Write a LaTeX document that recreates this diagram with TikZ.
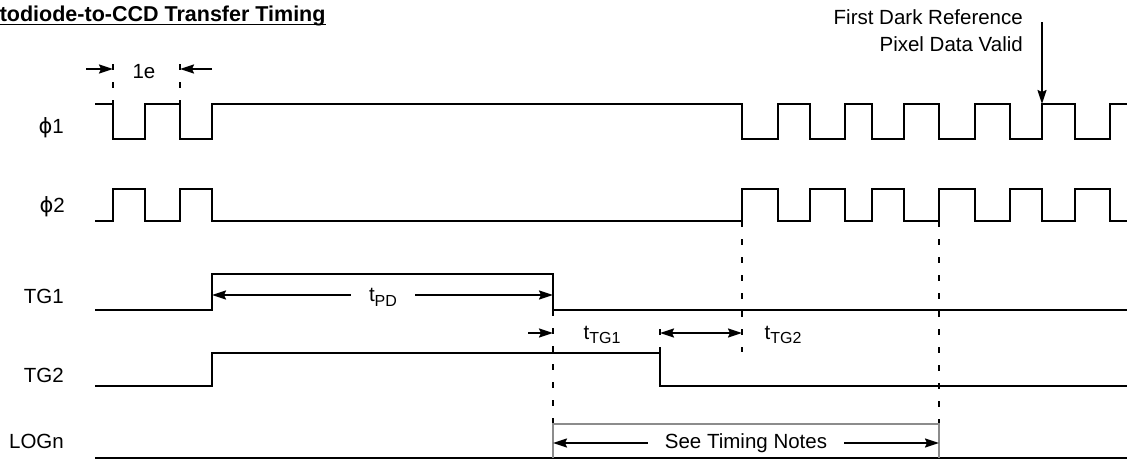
\documentclass[tikz,border=0pt]{standalone}
\usepackage{fontspec}
\setmainfont{Liberation Sans}
\newfontfamily\dejavu{DejaVu Sans}
\usetikzlibrary{arrows.meta}
\newcommand{\subs}[1]{\raisebox{-0.45ex}{\fontsize{16}{16}\selectfont #1}}
\newcommand{\phisym}{{\dejavu\fontsize{21}{24}\selectfont ϕ}}
\begin{document}
\begin{tikzpicture}[x=1pt,y=-1pt,
  sig/.style={line width=2pt, line join=miter},
  dashln/.style={line width=2pt, dash pattern=on 6pt off 12pt},
  tip/.tip={Stealth[length=14pt,width=9pt,inset=2pt]},
  dim/.style={line width=1.7pt, -tip},
  dimb/.style={line width=1.7pt, tip-tip},
  lbl/.style={font=\fontsize{20.5}{24}\selectfont, inner sep=0pt},
  sidelbl/.style={lbl, anchor=base east},
  gry/.style={draw=black!45, line width=1.6pt}]
\useasboundingbox (0,0) rectangle (1127,461);
\clip (0,0) rectangle (1127,461);

% title
\node[inner sep=0pt, anchor=base west, font=\bfseries\fontsize{21.5}{24}\selectfont] (title) at (-41,21) {Photodiode-to-CCD Transfer Timing};
\draw[line width=1.8pt] ([yshift=-3.5pt]title.base west) -- ([yshift=-3.5pt]title.base east);

% signal labels
\node[sidelbl] (lphi1) at (64,133) {\phisym1};
\node[sidelbl] (lphi2) at (65,212) {\phisym2};
\node[sidelbl] (ltg1) at (64,303) {TG1};
\node[sidelbl] (ltg2) at (64,382) {TG2};
\node[sidelbl] (llog) at (64,448) {LOGn};

% phi1
\draw[sig] (95,104) -- (113,104) -- (113,139) -- (145,139) -- (145,104) -- (180,104) -- (180,139) -- (212,139) -- (212,104)
  -- (742,104) -- (742,139) -- (778,139) -- (778,104) -- (810,104) -- (810,139) -- (845,139) -- (845,104)
  -- (872,104) -- (872,139) -- (904,139) -- (904,104) -- (939,104) -- (939,139) -- (975,139) -- (975,104)
  -- (1010,104) -- (1010,139) -- (1042,139) -- (1042,104) -- (1075,104) -- (1075,139) -- (1110,139) -- (1110,104) -- (1127,104);
% phi2
\draw[sig] (95,221) -- (113,221) -- (113,189) -- (145,189) -- (145,221) -- (180,221) -- (180,189) -- (212,189) -- (212,221)
  -- (742,221) -- (742,189) -- (778,189) -- (778,221) -- (810,221) -- (810,189) -- (845,189) -- (845,221)
  -- (872,221) -- (872,189) -- (904,189) -- (904,221) -- (939,221) -- (939,189) -- (975,189) -- (975,221)
  -- (1010,221) -- (1010,189) -- (1042,189) -- (1042,221) -- (1075,221) -- (1075,189) -- (1110,189) -- (1110,221) -- (1127,221);
% TG1
\draw[sig] (95,310) -- (212,310) -- (212,274) -- (553,274) -- (553,310) -- (1127,310);
% TG2
\draw[sig] (95,386) -- (212,386) -- (212,353) -- (660,353) -- (660,386) -- (1127,386);
% LOGn
\draw[sig] (95,458) -- (1127,458);

% dashed guides
\draw[dashln] (113,64) -- (113,104);
\draw[dashln] (180,64) -- (180,104);
\draw[dashln] (742,221) -- (742,352);
\draw[dashln] (939,221) -- (939,424);
\draw[dashln] (553,310) -- (553,424);
\draw[dashln] (660,353) -- (660,318);

% 1e
\coordinate (e1a) at (86,69); \coordinate (e1) at (113,69);
\coordinate (e2a) at (212,69); \coordinate (e2) at (180,69);
\node[lbl] (le) at (144,72) {1e};
\draw[dim] (e1a) -- (e1);
\draw[dim] (e2a) -- (e2);

% tPD
\coordinate (pd1) at (212,295); \coordinate (pd2) at (553,295);
\node[lbl, inner xsep=18pt] (tpd) at (383,297) {t\subs{PD}};
\draw[dim] (tpd.west |- pd1) -- (pd1);
\draw[dim] (tpd.east |- pd2) -- (pd2);

% tTG1
\coordinate (tg1a) at (528,333); \coordinate (tg1b) at (553,333);
\node[lbl] (ttg1) at (602,335) {t\subs{TG1}};
\draw[dim] (tg1a) -- (tg1b);

% tTG2
\coordinate (tg2a) at (660,333); \coordinate (tg2b) at (742,333);
\node[lbl] (ttg2) at (783,335) {t\subs{TG2}};
\draw[dimb] (tg2a) -- (tg2b);

% See Timing Notes
\draw[gry] (553,458) -- (553,424) -- (939,424) -- (939,458);
\coordinate (sn1) at (553,443); \coordinate (sn2) at (939,443);
\node[lbl, inner xsep=17pt] (snt) at (746,443) {See Timing Notes};
\draw[dim] (snt.west |- sn1) -- (sn1);
\draw[dim] (snt.east |- sn2) -- (sn2);

% First Dark Reference
\node[lbl, align=right, anchor=north east, font=\fontsize{20.5}{27}\selectfont] (fdr) at (1023,9) {First Dark Reference\\Pixel Data Valid};
\coordinate (fdrtop) at (1042,22); \coordinate (fdrtip) at (1042,104);
\draw[dim] (fdrtop) -- (fdrtip);
\end{tikzpicture}
\end{document}
